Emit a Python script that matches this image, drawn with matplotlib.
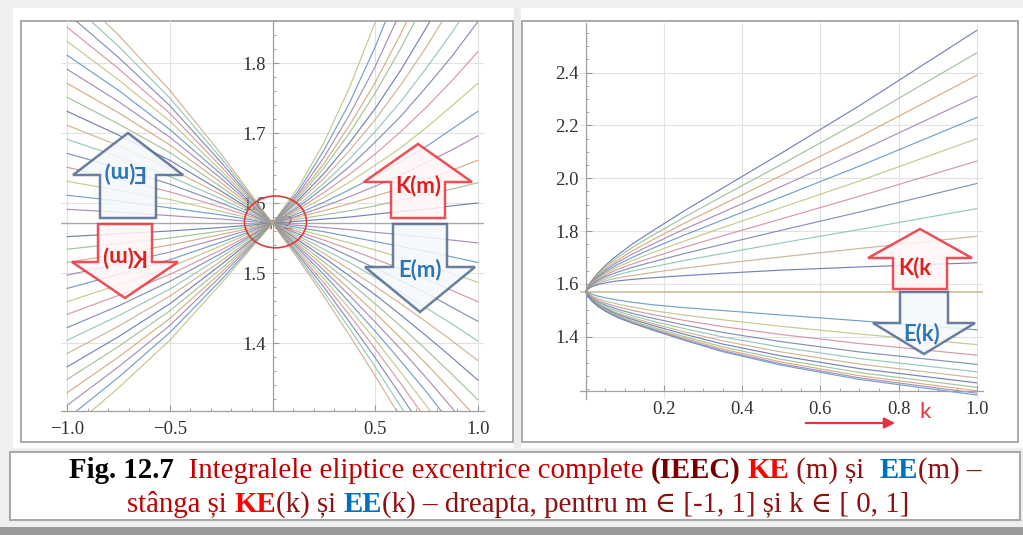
import matplotlib
matplotlib.use("Agg")
import matplotlib.pyplot as plt
from matplotlib.patches import Polygon, Ellipse, Rectangle, FancyArrowPatch
from matplotlib.ticker import MultipleLocator

HALF_PI = 1.5708

# ---- left panel: KE(m) and EE(m), m in [-1, 1] ----
m_grid = [-1.0, -0.75, -0.5, -0.25, 0.0, 0.125, 0.25, 0.375, 0.5, 0.625, 0.75, 0.875, 1.0]

ke_m = [
    [1.552, 1.556, 1.560, 1.565, 1.571, 1.574, 1.577, 1.580, 1.584, 1.588, 1.591, 1.596, 1.600],
    [1.534, 1.542, 1.550, 1.560, 1.571, 1.577, 1.583, 1.589, 1.596, 1.604, 1.612, 1.620, 1.629],
    [1.515, 1.527, 1.540, 1.555, 1.571, 1.580, 1.589, 1.599, 1.610, 1.621, 1.634, 1.647, 1.661],
    [1.497, 1.513, 1.530, 1.550, 1.571, 1.582, 1.595, 1.609, 1.624, 1.640, 1.658, 1.676, 1.696],
    [1.478, 1.498, 1.519, 1.544, 1.571, 1.585, 1.601, 1.619, 1.638, 1.659, 1.681, 1.706, 1.731],
    [1.459, 1.483, 1.508, 1.539, 1.571, 1.588, 1.608, 1.630, 1.654, 1.679, 1.708, 1.739, 1.771],
    [1.441, 1.468, 1.498, 1.533, 1.571, 1.591, 1.615, 1.641, 1.670, 1.702, 1.737, 1.775, 1.816],
    [1.422, 1.453, 1.488, 1.528, 1.571, 1.594, 1.622, 1.652, 1.687, 1.724, 1.766, 1.810, 1.859],
    [1.404, 1.439, 1.477, 1.523, 1.571, 1.597, 1.628, 1.663, 1.702, 1.745, 1.793, 1.844, 1.900],
    [1.385, 1.424, 1.467, 1.517, 1.571, 1.601, 1.635, 1.675, 1.719, 1.769, 1.823, 1.883, 1.947],
    [1.366, 1.409, 1.456, 1.512, 1.571, 1.604, 1.642, 1.686, 1.735, 1.790, 1.851, 1.918, 1.990],
    [1.348, 1.395, 1.446, 1.506, 1.571, 1.607, 1.650, 1.700, 1.757, 1.821, 1.892, 1.970, 2.055],
    [1.329, 1.380, 1.435, 1.501, 1.571, 1.610, 1.656, 1.711, 1.772, 1.842, 1.919, 2.004, 2.096],
    [1.311, 1.366, 1.425, 1.496, 1.571, 1.613, 1.665, 1.726, 1.795, 1.874, 1.962, 2.059, 2.166],
    [1.292, 1.351, 1.415, 1.490, 1.571, 1.617, 1.675, 1.743, 1.823, 1.914, 2.017, 2.130, 2.255],
    [1.273, 1.336, 1.404, 1.485, 1.571, 1.622, 1.686, 1.765, 1.858, 1.966, 2.089, 2.225, 2.375],
]

ee_m = [
    [1.591, 1.587, 1.582, 1.577, 1.571, 1.568, 1.565, 1.562, 1.558, 1.555, 1.551, 1.547, 1.543],
    [1.611, 1.603, 1.593, 1.583, 1.571, 1.565, 1.559, 1.552, 1.545, 1.538, 1.531, 1.523, 1.515],
    [1.631, 1.618, 1.605, 1.588, 1.571, 1.562, 1.553, 1.543, 1.533, 1.522, 1.511, 1.499, 1.487],
    [1.651, 1.634, 1.616, 1.594, 1.571, 1.559, 1.547, 1.534, 1.520, 1.506, 1.491, 1.475, 1.459],
    [1.671, 1.650, 1.627, 1.600, 1.571, 1.556, 1.541, 1.524, 1.507, 1.489, 1.471, 1.451, 1.431],
    [1.691, 1.666, 1.638, 1.606, 1.571, 1.553, 1.534, 1.515, 1.494, 1.473, 1.450, 1.427, 1.403],
    [1.711, 1.682, 1.649, 1.612, 1.571, 1.550, 1.528, 1.505, 1.481, 1.456, 1.430, 1.403, 1.375],
    [1.731, 1.697, 1.661, 1.617, 1.571, 1.547, 1.522, 1.496, 1.469, 1.440, 1.410, 1.379, 1.347],
    [1.751, 1.713, 1.672, 1.623, 1.571, 1.544, 1.516, 1.487, 1.456, 1.424, 1.390, 1.355, 1.319],
    [1.771, 1.729, 1.683, 1.629, 1.571, 1.541, 1.510, 1.477, 1.443, 1.407, 1.370, 1.331, 1.291],
    [1.791, 1.745, 1.694, 1.635, 1.571, 1.538, 1.504, 1.468, 1.430, 1.391, 1.350, 1.307, 1.263],
    [1.811, 1.761, 1.705, 1.641, 1.571, 1.535, 1.498, 1.458, 1.417, 1.374, 1.330, 1.283, 1.235],
    [1.831, 1.776, 1.717, 1.646, 1.571, 1.532, 1.492, 1.449, 1.405, 1.358, 1.310, 1.259, 1.207],
    [1.851, 1.792, 1.728, 1.652, 1.571, 1.529, 1.486, 1.440, 1.392, 1.342, 1.290, 1.235, 1.179],
    [1.871, 1.808, 1.739, 1.658, 1.571, 1.526, 1.480, 1.430, 1.379, 1.325, 1.270, 1.211, 1.151],
    [1.891, 1.824, 1.750, 1.664, 1.571, 1.523, 1.473, 1.421, 1.366, 1.309, 1.249, 1.187, 1.123],
    [1.911, 1.840, 1.761, 1.670, 1.571, 1.520, 1.467, 1.411, 1.353, 1.293, 1.229, 1.163, 1.095],
]

# ---- right panel: KE(k) and EE(k), k in [0, 1] ----
k_grid = [0.0, 0.005, 0.015, 0.03, 0.05, 0.08, 0.12, 0.17, 0.25, 0.35, 0.5, 0.7, 1.0]

ke_k = [
    [1.571, 1.590, 1.613, 1.640, 1.670, 1.708, 1.752, 1.800, 1.875, 1.963, 2.095, 2.275, 2.560],
    [1.571, 1.589, 1.611, 1.636, 1.664, 1.699, 1.739, 1.783, 1.851, 1.932, 2.052, 2.216, 2.475],
    [1.571, 1.588, 1.608, 1.632, 1.657, 1.689, 1.726, 1.766, 1.828, 1.901, 2.010, 2.157, 2.390],
    [1.571, 1.587, 1.606, 1.628, 1.651, 1.681, 1.714, 1.750, 1.806, 1.871, 1.969, 2.102, 2.310],
    [1.571, 1.586, 1.604, 1.624, 1.645, 1.672, 1.701, 1.734, 1.784, 1.842, 1.929, 2.046, 2.230],
    [1.571, 1.585, 1.602, 1.620, 1.639, 1.663, 1.689, 1.718, 1.761, 1.813, 1.889, 1.990, 2.150],
    [1.571, 1.584, 1.600, 1.616, 1.633, 1.654, 1.676, 1.700, 1.738, 1.782, 1.846, 1.932, 2.065],
    [1.571, 1.583, 1.597, 1.612, 1.627, 1.644, 1.663, 1.683, 1.714, 1.750, 1.803, 1.872, 1.980],
    [1.571, 1.582, 1.595, 1.607, 1.619, 1.634, 1.649, 1.664, 1.688, 1.715, 1.755, 1.806, 1.885],
    [1.571, 1.581, 1.592, 1.602, 1.612, 1.622, 1.632, 1.643, 1.659, 1.677, 1.702, 1.734, 1.780],
    [1.571, 1.580, 1.589, 1.597, 1.604, 1.611, 1.617, 1.623, 1.631, 1.640, 1.652, 1.664, 1.680],
]

ee_k = [
    [1.571, 1.567, 1.561, 1.554, 1.547, 1.539, 1.530, 1.521, 1.510, 1.499, 1.482, 1.460, 1.426],
    [1.571, 1.564, 1.555, 1.545, 1.535, 1.524, 1.512, 1.499, 1.482, 1.464, 1.439, 1.410, 1.370],
    [1.571, 1.562, 1.551, 1.539, 1.527, 1.513, 1.499, 1.484, 1.462, 1.438, 1.408, 1.374, 1.330],
    [1.571, 1.560, 1.547, 1.533, 1.520, 1.504, 1.488, 1.470, 1.445, 1.416, 1.381, 1.342, 1.295],
    [1.571, 1.558, 1.544, 1.529, 1.514, 1.497, 1.479, 1.459, 1.431, 1.399, 1.360, 1.317, 1.267],
    [1.571, 1.557, 1.542, 1.525, 1.509, 1.490, 1.471, 1.450, 1.419, 1.384, 1.342, 1.296, 1.244],
    [1.571, 1.556, 1.540, 1.522, 1.506, 1.485, 1.465, 1.443, 1.410, 1.372, 1.327, 1.279, 1.225],
    [1.571, 1.555, 1.538, 1.520, 1.502, 1.481, 1.459, 1.436, 1.401, 1.361, 1.314, 1.264, 1.208],
    [1.571, 1.554, 1.537, 1.518, 1.499, 1.477, 1.455, 1.431, 1.395, 1.353, 1.304, 1.252, 1.195],
    [1.571, 1.553, 1.536, 1.516, 1.497, 1.475, 1.452, 1.428, 1.390, 1.347, 1.297, 1.244, 1.186],
    [1.571, 1.553, 1.535, 1.515, 1.496, 1.473, 1.450, 1.425, 1.387, 1.343, 1.292, 1.238, 1.179],
]

left_xticks = [-1.0, -0.5, 0.5, 1.0]
left_yticks = [1.4, 1.5, 1.6, 1.7, 1.8]
right_xticks = [0.2, 0.4, 0.6, 0.8, 1.0]
right_yticks = [1.4, 1.6, 1.8, 2.0, 2.2, 2.4]

palette = ['#5d6ea8', '#93b98c', '#d0a070', '#9b7bb0', '#5b8fc0',
           '#bcbf78', '#d08896', '#6f7fa8', '#86bfae', '#c9a882']

SERIF = ['Liberation Serif', 'DejaVu Serif']
W, H = 1023, 535

fig = plt.figure(figsize=(W / 100, H / 100), dpi=100)
fig.patch.set_facecolor('#efefef')


def px_rect(x0, y0, x1, y1):
    return [x0 / W, 1 - y1 / H, (x1 - x0) / W, (y1 - y0) / H]


# background, panel frames, caption box
bg = fig.add_axes([0, 0, 1, 1], zorder=0)
bg.set_xlim(0, W)
bg.set_ylim(H, 0)
bg.axis('off')
bg.add_patch(Rectangle((13, 8), W - 13, 440, fc='white', ec='none'))
bg.add_patch(Rectangle((514, 8), 7, 440, fc='#ececec', ec='none'))
bg.add_patch(Rectangle((21, 21), 492, 421, fc='none', ec='#9c9c9c', lw=1.2))
bg.add_patch(Rectangle((522, 21), 496, 421, fc='none', ec='#9c9c9c', lw=1.2))
bg.add_patch(Rectangle((10, 452), 1010, 68, fc='white', ec='#a8a8a8', lw=1.5))
bg.add_patch(Rectangle((0, 527), W, 8, fc='#9a9a9a', ec='none'))


def style_axes(ax):
    ax.set_facecolor('none')
    for s in ('top', 'right'):
        ax.spines[s].set_visible(False)
    for s in ('left', 'bottom'):
        ax.spines[s].set_color('#a0a0a0')
        ax.spines[s].set_linewidth(0.9)
    ax.tick_params(which='both', direction='in', color='#9a9a9a')
    ax.tick_params(which='major', length=4, labelsize=13.5, labelcolor='#333333')
    ax.tick_params(which='minor', length=2.2)
    ax.tick_params(axis='x', pad=7)
    ax.tick_params(axis='y', pad=5)
    for lab in ax.get_xticklabels() + ax.get_yticklabels():
        lab.set_family(SERIF)


# ---- left panel ----
ax1 = fig.add_axes(px_rect(61, 21, 484, 411), zorder=1)
ax1.set_xlim(-1.03, 1.03)
ax1.set_ylim(1.3029, 1.86)
for v in left_xticks:
    ax1.axvline(v, color='#e2e2e2', lw=0.8, zorder=0)
for v in left_yticks:
    ax1.axhline(v, color='#e2e2e2', lw=0.8, zorder=0)
ax1.axhline(HALF_PI, color='#a9a9a9', lw=1.0, zorder=1)

for i, row in enumerate(ke_m):
    ax1.plot(m_grid, row, color=palette[i % len(palette)], lw=0.85, alpha=0.85, zorder=2)
for i, row in enumerate(ee_m):
    ax1.plot(m_grid, row, color=palette[(i + 3) % len(palette)], lw=0.85, alpha=0.85, zorder=2)

ax1.spines['left'].set_position(('data', 0))
ax1.set_xticks(left_xticks)
ax1.set_xticklabels(['\u22121.0', '\u22120.5', '0.5', '1.0'])
ax1.set_yticks(left_yticks)
ax1.xaxis.set_minor_locator(MultipleLocator(0.1))
ax1.yaxis.set_minor_locator(MultipleLocator(0.02))
style_axes(ax1)

ax1.text(0.044, 1.5695, '\u03c0/2', color='#e53030', fontsize=14, ha='center', va='center',
         family=SERIF, zorder=1)
ax1.add_patch(Ellipse((0.0146, 1.573), 0.302, 0.074, fc='none', ec='#e03a3a', lw=1.2, zorder=3))

# ---- right panel ----
ax2 = fig.add_axes(px_rect(580, 22.5, 982.6, 398.7), zorder=1)
ax2.set_xlim(-0.015, 1.015)
ax2.set_ylim(1.165, 2.59)
for v in right_xticks:
    ax2.axvline(v, color='#e2e2e2', lw=0.8, zorder=0)
for v in right_yticks:
    ax2.axhline(v, color='#e2e2e2', lw=0.8, zorder=0)
ax2.axhline(HALF_PI, color='#cbbd96', lw=1.2, zorder=1)

for i, row in enumerate(ke_k):
    ax2.plot(k_grid, row, color=palette[i % len(palette)], lw=0.85, alpha=0.85, zorder=2)
for i, row in enumerate(ee_k):
    ax2.plot(k_grid, row, color=palette[(i + 4) % len(palette)], lw=0.85, alpha=0.85, zorder=2)

ax2.spines['left'].set_position(('data', 0))
ax2.spines['bottom'].set_position(('data', 1.195))
ax2.set_xticks(right_xticks)
ax2.set_xticklabels(['0.2', '0.4', '0.6', '0.8', '1.0'])
ax2.set_yticks(right_yticks)
ax2.xaxis.set_minor_locator(MultipleLocator(0.05))
ax2.yaxis.set_minor_locator(MultipleLocator(0.05))
style_axes(ax2)

# ---- overlay: block arrows, labels, caption ----
ov = fig.add_axes([0, 0, 1, 1], zorder=3)
ov.set_xlim(0, W)
ov.set_ylim(H, 0)
ov.axis('off')

RED = '#e8323c'
BLUE_EDGE = '#51698f'


def block_arrow(cx, tip_y, base_y, end_y, head_hw, shaft_hw, edge, face):
    pts = [(cx, tip_y), (cx + head_hw, base_y), (cx + shaft_hw, base_y),
           (cx + shaft_hw, end_y), (cx - shaft_hw, end_y), (cx - shaft_hw, base_y),
           (cx - head_hw, base_y)]
    ov.add_patch(Polygon(pts, closed=True, fc=face, ec=edge, lw=1.8, alpha=0.85))


block_arrow(128, 133, 175, 218, 55, 28, BLUE_EDGE, '#f4f9fc')
block_arrow(125, 298, 262, 224, 53, 27, RED, '#fff6f6')
block_arrow(418, 144, 182, 218, 54, 27, RED, '#fff6f6')
block_arrow(420, 312, 267, 224, 55, 27, BLUE_EDGE, '#f4f9fc')
block_arrow(920, 229, 258, 289, 52, 27, RED, '#fff6f6')
block_arrow(924, 354, 323, 292, 51, 24, BLUE_EDGE, '#f4f9fc')

lab_kw = dict(family=['Lato', 'DejaVu Sans'], fontweight='bold', fontsize=16,
              ha='center', va='center')
ov.text(123, 172, 'E(m)', color='#2e75b6', rotation=180, **lab_kw)
ov.text(122, 256, 'K(m)', color='#e02020', rotation=180, **lab_kw)
ov.text(418, 186, 'K(m)', color='#e02020', **lab_kw)
ov.text(420, 270, 'E(m)', color='#2e75b6', **lab_kw)
ov.text(915, 268, 'K(k', color='#e02020', **lab_kw)
ov.text(922, 334, 'E(k)', color='#2e75b6', **lab_kw)

ov.add_patch(FancyArrowPatch((803, 423), (898, 423), arrowstyle='-|>', mutation_scale=16,
                             color='#e8323c', lw=1.6))
ov.text(925, 412, 'k', color='#e8323c', fontsize=16, ha='center', va='center',
        family=['Lato', 'DejaVu Sans'])

renderer = fig.canvas.get_renderer()


def seg_width(s, size, weight):
    a = fig.text(0, 0, '|' + s + '|', fontsize=size, fontweight=weight, family=SERIF)
    b = fig.text(0, 0, '||', fontsize=size, fontweight=weight, family=SERIF)
    w = a.get_window_extent(renderer).width - b.get_window_extent(renderer).width
    a.remove()
    b.remove()
    return w


def rich_line(y, parts, size, center):
    widths = [seg_width(s, size, wt) for s, c, wt in parts]
    x = center - sum(widths) / 2
    for (s, c, wt), w in zip(parts, widths):
        ov.text(x, y, s, color=c, fontsize=size, fontweight=wt, family=SERIF,
                ha='left', va='baseline')
        x += w


RED_TXT = '#c00000'
MAROON = '#8e1010'
line1 = [
    ('Fig. 12.7', 'black', 'bold'),
    ('  Integralele eliptice excentrice complete ', RED_TXT, 'normal'),
    ('(IEEC)', '#760000', 'bold'),
    (' ', MAROON, 'normal'),
    ('KE', '#ff0000', 'bold'),
    (' (m) și  ', MAROON, 'normal'),
    ('EE', '#0070c0', 'bold'),
    ('(m) \u2013', MAROON, 'normal'),
]
line2 = [
    ('stânga și ', RED_TXT, 'normal'),
    ('KE', '#ff0000', 'bold'),
    ('(k) și ', MAROON, 'normal'),
    ('EE', '#0070c0', 'bold'),
    ('(k) \u2013 dreapta, pentru m \u2208 [-1, 1] și k \u2208 [ 0, 1]', MAROON, 'normal'),
]
rich_line(478, line1, 20.8, 525)
rich_line(512, line2, 20.8, 518)

fig.savefig('out.png', dpi=100, facecolor=fig.get_facecolor())
